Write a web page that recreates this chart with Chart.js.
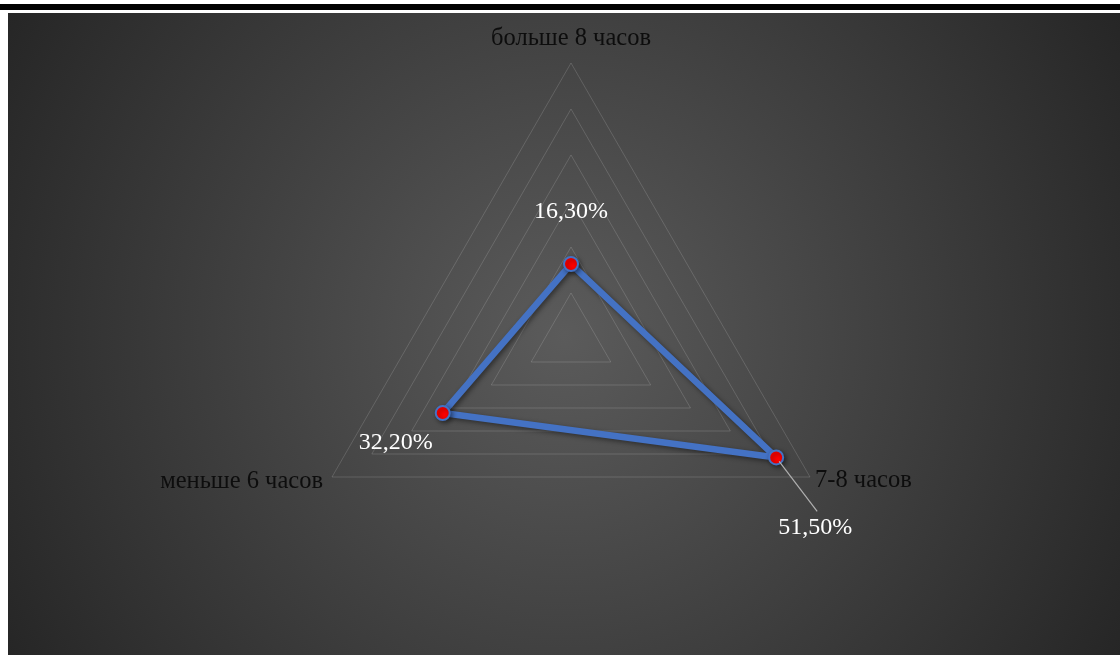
<!DOCTYPE html>
<html lang="ru">
<head>
    <meta charset="UTF-8">
    <title>Продолжительность сна</title>
    <script src="https://cdn.jsdelivr.net/npm/chart.js"></script>
    <style>
        html, body { margin: 0; padding: 0; background: #fff; }
        body { width: 1120px; height: 655px; position: relative; overflow: hidden; }
        .top-rule { position: absolute; left: 0; top: 4px; width: 1120px; height: 6px; background: #000; }
        .panel {
            position: absolute; left: 8px; top: 13px; width: 1112px; height: 642px;
            background: radial-gradient(circle farthest-corner at 50% 50%, #5b5b5b 0%, #262626 100%);
        }
    </style>
</head>
<body>
    <div class="top-rule"></div>
    <div class="panel">
        <canvas id="sleepChart" width="1112" height="642"></canvas>
    </div>

    <script>
        const categories = ['больше 8 часов', '7-8 часов', 'меньше 6 часов'];
        const shares = [16.3, 51.5, 32.2];
        const scaleMax = 60;
        const scaleStep = 10;

        const serif = '"Liberation Serif", "Times New Roman", serif';

        // 16.3 -> "16,30%"
        const formatShare = (v) => v.toFixed(2).replace('.', ',') + '%';

        // category names around the triangle
        const axisLabels = {
            id: 'axisLabels',
            afterDraw(chart) {
                const r = chart.scales.r;
                const ctx = chart.ctx;
                const spots = [
                    { dx: 0, dy: -24, align: 'center' },
                    { dx: 5, dy: 4, align: 'left' },
                    { dx: -9, dy: 5, align: 'right' }
                ];
                ctx.save();
                ctx.font = '24.5px ' + serif;
                ctx.fillStyle = '#0d0d0d';
                ctx.textBaseline = 'middle';
                categories.forEach((name, i) => {
                    const p = r.getPointPosition(i, r.drawingArea);
                    ctx.textAlign = spots[i].align;
                    ctx.fillText(name, p.x + spots[i].dx, p.y + spots[i].dy);
                });
                ctx.restore();
            }
        };

        // percentage labels next to the points, the last one with a leader line
        const valueLabels = {
            id: 'valueLabels',
            afterDatasetsDraw(chart) {
                const ctx = chart.ctx;
                const pts = chart.getDatasetMeta(0).data;
                const spots = [
                    { dx: 0, dy: -52 },
                    { dx: 39, dy: 70, leader: true },
                    { dx: -47, dy: 30 }
                ];
                ctx.save();
                ctx.font = '24px ' + serif;
                ctx.fillStyle = '#ffffff';
                ctx.textAlign = 'center';
                ctx.textBaseline = 'middle';
                pts.forEach((pt, i) => {
                    const s = spots[i];
                    if (s.leader) {
                        ctx.strokeStyle = '#b0b0b0';
                        ctx.lineWidth = 1.2;
                        ctx.beginPath();
                        ctx.moveTo(pt.x + 3, pt.y + 4);
                        ctx.lineTo(pt.x + s.dx + 2, pt.y + s.dy - 16);
                        ctx.stroke();
                    }
                    ctx.fillText(formatShare(shares[i]), pt.x + s.dx, pt.y + s.dy);
                });
                ctx.restore();
            }
        };

        // soft shadow under the series
        const seriesShadow = {
            id: 'seriesShadow',
            beforeDatasetDraw(chart) {
                const ctx = chart.ctx;
                ctx.save();
                ctx.shadowColor = 'rgba(0, 0, 0, 0.45)';
                ctx.shadowBlur = 5;
                ctx.shadowOffsetX = 2;
                ctx.shadowOffsetY = 2;
            },
            afterDatasetDraw(chart) {
                chart.ctx.restore();
            }
        };

        new Chart(document.getElementById('sleepChart').getContext('2d'), {
            type: 'radar',
            data: {
                labels: categories,
                datasets: [{
                    data: shares,
                    borderColor: '#4472C4',
                    borderWidth: 6.5,
                    borderJoinStyle: 'round',
                    backgroundColor: 'transparent',
                    fill: false,
                    pointBackgroundColor: '#ff0000',
                    pointBorderColor: '#4472C4',
                    pointBorderWidth: 2,
                    pointRadius: 7,
                    pointHoverRadius: 7
                }]
            },
            options: {
                responsive: false,
                animation: false,
                layout: {
                    padding: { left: 287, right: 273, top: 50, bottom: 40 }
                },
                plugins: {
                    legend: { display: false },
                    tooltip: { enabled: false }
                },
                scales: {
                    r: {
                        min: 0,
                        max: scaleMax,
                        ticks: { stepSize: scaleStep, display: false },
                        angleLines: { display: false },
                        grid: { color: 'rgba(255, 255, 255, 0.15)', lineWidth: 1 },
                        pointLabels: { display: false }
                    }
                }
            },
            plugins: [seriesShadow, valueLabels, axisLabels]
        });
    </script>
</body>
</html>
